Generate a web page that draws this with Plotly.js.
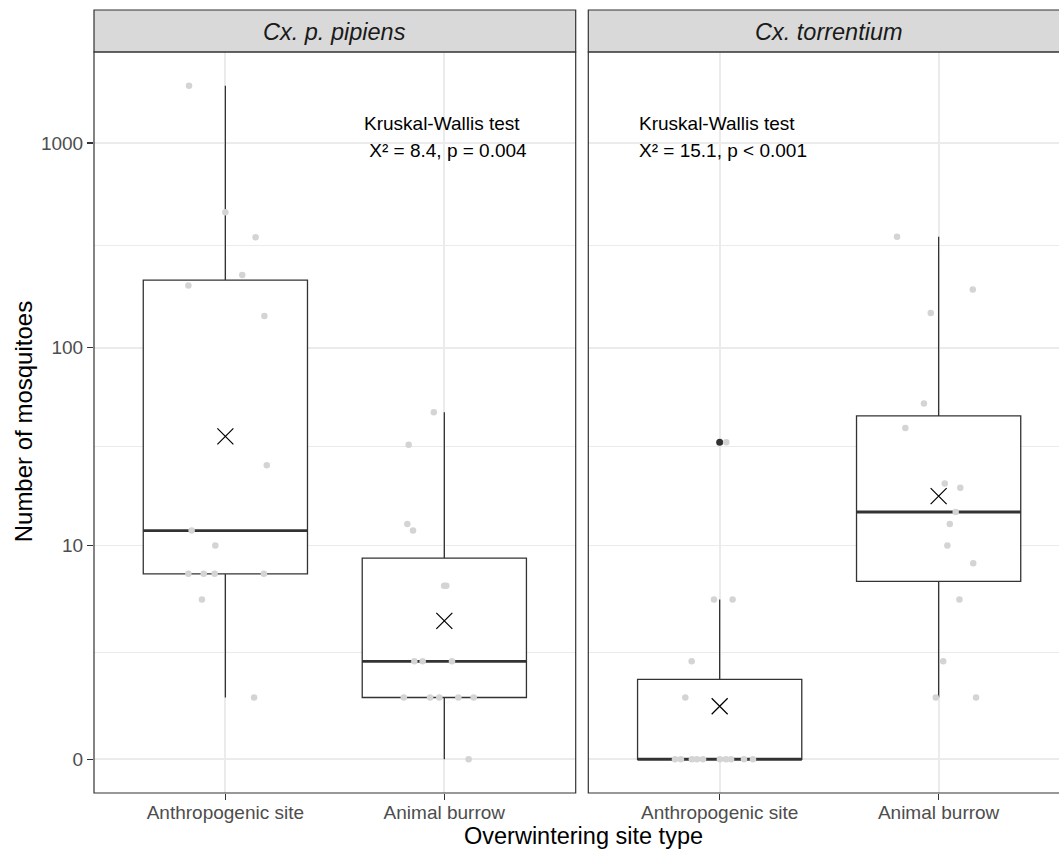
<!DOCTYPE html>
<html>
<head>
<meta charset="utf-8">
<script src="https://cdn.plot.ly/plotly-3.0.1.min.js"></script>
<style>html,body{margin:0;padding:0;background:#fff;overflow:hidden}</style>
</head>
<body>
<div id="chart" style="width:1059px;height:849px"></div>
<script>
// ---------- data ----------
const species = ['Cx. p. pipiens', 'Cx. torrentium'];
const siteTypes = ['Anthropogenic site', 'Animal burrow'];
const yBreaks = [0, 10, 100, 1000];
const yBreakLabels = ['0', '10', '100', '1000'];

// Cx. p. pipiens
const pipiensAnthropogenic = [1904, 460, 347, 227, 202, 143, 26, 12, 10, 7, 7, 7, 7, 5, 1];
const pipiensAnthropogenicJitter = [-0.166, 0.0, 0.138, 0.077, -0.169, 0.178, 0.189, -0.154, -0.046, -0.169, -0.099, -0.049, 0.176, -0.107, 0.131];
const pipiensBurrow = [48, 33, 13, 12, 6, 6, 2, 2, 2, 1, 1, 1, 1, 1, 0];
const pipiensBurrowJitter = [-0.048, -0.163, -0.169, -0.143, -0.001, 0.009, -0.137, -0.099, 0.035, -0.185, -0.065, -0.023, 0.064, 0.134, 0.111];

// Cx. torrentium
const torrentiumAnthropogenic = [34, 5, 5, 2, 1, 0, 0, 0, 0, 0, 0, 0, 0, 0, 0];
const torrentiumAnthropogenicJitter = [0.030, -0.026, 0.059, -0.128, -0.157, -0.204, -0.177, -0.127, -0.104, -0.076, 0.001, 0.029, 0.052, 0.111, 0.152];
const torrentiumBurrow = [349, 193, 148, 53, 40, 21, 20, 15, 13, 10, 8, 5, 2, 1, 1];
const torrentiumBurrowJitter = [-0.190, 0.156, -0.036, -0.067, -0.152, 0.028, 0.099, 0.078, 0.051, 0.040, 0.158, 0.095, 0.021, -0.013, 0.171];

const pipiensTest = ['Kruskal-Wallis test', '\u00a0X\u00b2 = 8.4, p = 0.004'];
const torrentiumTest = ['Kruskal-Wallis test', 'X\u00b2 = 15.1, p < 0.001'];
const xTitle = 'Overwintering site type';
const yTitle = 'Number of mosquitoes';

// ---------- helpers ----------
const tr = v => Math.log10(v + 1);           // log10(x + 1) scale
const FONT = 'Liberation Sans, Arial, Helvetica, sans-serif';
const DARK = '#333333';
const GRID = '#ebebeb';

const W = 1059, H = 849;
const M = {l: 94, r: 0, t: 52, b: 56};
const plotW = W - M.l - M.r, plotH = H - M.t - M.b;
const panelW = 481.7, gap = 12.6;
const unit = panelW / 2.2;
const px2x = px => (px - M.l) / plotW;
const py2y = py => (H - M.b - py) / plotH;

const allT = [].concat(pipiensAnthropogenic, pipiensBurrow, torrentiumAnthropogenic, torrentiumBurrow).map(tr);
const tMin = Math.min(...allT), tMax = Math.max(...allT);
const pad = (tMax - tMin) * 0.05;
const yRange = [tMin - pad, tMax + pad];

const majorT = yBreaks.map(tr);
const minorT = [];
for (let i = 0; i < majorT.length - 1; i++) minorT.push((majorT[i] + majorT[i + 1]) / 2);

function median(arr) {
  const s = arr.slice().sort((a, b) => a - b), n = s.length;
  return n % 2 ? s[(n - 1) / 2] : (s[n / 2 - 1] + s[n / 2]) / 2;
}
function mean(arr) { return arr.reduce((a, b) => a + b, 0) / arr.length; }

const groups = [
  {vals: pipiensAnthropogenic, jit: pipiensAnthropogenicJitter, pos: 1, xa: 'x', ya: 'y'},
  {vals: pipiensBurrow, jit: pipiensBurrowJitter, pos: 2, xa: 'x', ya: 'y'},
  {vals: torrentiumAnthropogenic, jit: torrentiumAnthropogenicJitter, pos: 1, xa: 'x2', ya: 'y2'},
  {vals: torrentiumBurrow, jit: torrentiumBurrowJitter, pos: 2, xa: 'x2', ya: 'y2'}
];

const boxW = 0.75;
const traces = [];
// boxes
groups.forEach(g => {
  const t = g.vals.map(tr);
  traces.push({
    type: 'box', x: t.map(() => g.pos), y: t, xaxis: g.xa, yaxis: g.ya,
    width: boxW, quartilemethod: 'inclusive', whiskerwidth: 0,
    boxpoints: 'outliers', jitter: 0, pointpos: 0,
    fillcolor: '#ffffff', line: {color: DARK, width: 1.3},
    marker: {color: DARK, size: 7, line: {width: 0}},
    hoverinfo: 'skip', showlegend: false
  });
});
// thick median lines
groups.forEach(g => {
  const m = median(g.vals.map(tr));
  traces.push({
    type: 'scatter', mode: 'lines', xaxis: g.xa, yaxis: g.ya,
    x: [g.pos - boxW / 2, g.pos + boxW / 2], y: [m, m],
    line: {color: DARK, width: 2.8}, hoverinfo: 'skip', showlegend: false
  });
});
// jittered points
groups.forEach(g => {
  traces.push({
    type: 'scatter', mode: 'markers', xaxis: g.xa, yaxis: g.ya,
    x: g.jit.map(j => g.pos + j), y: g.vals.map(tr),
    marker: {color: '#d4d4d4', size: 6.5, line: {width: 0}},
    hoverinfo: 'skip', showlegend: false
  });
});
// means (X)
groups.forEach(g => {
  traces.push({
    type: 'scatter', mode: 'markers', xaxis: g.xa, yaxis: g.ya,
    x: [g.pos], y: [mean(g.vals.map(tr))],
    marker: {symbol: 'x-thin-open', size: 16, color: '#000000', line: {color: '#000000', width: 1.2}},
    hoverinfo: 'skip', showlegend: false
  });
});

const tickFont = {family: FONT, size: 19, color: '#4d4d4d'};
const xBase = {
  type: 'linear', tickmode: 'array', tickvals: [1, 2], ticktext: siteTypes,
  showgrid: true, gridcolor: GRID, gridwidth: 1.8, zeroline: false,
  ticks: 'outside', ticklen: 6, tickwidth: 1.2, tickcolor: DARK,
  ticklabelstandoff: -4,
  tickfont: tickFont, showline: false, fixedrange: true
};
const yBase = {
  type: 'linear', range: yRange, tickmode: 'array', tickvals: majorT, ticktext: yBreakLabels,
  showgrid: true, gridcolor: GRID, gridwidth: 1.8, zeroline: false,
  minor: {tickmode: 'array', tickvals: minorT, showgrid: true, gridcolor: GRID, gridwidth: 1, ticks: ''},
  showline: false, fixedrange: true
};

const x1d = [0, px2x(M.l + panelW)];
const x2d = [px2x(M.l + panelW + gap), 1];
const x2max = 0.4 + (plotW - (panelW + gap)) / unit;

const shapes = [];
// strips
[[x1d[0], x1d[1]], [x2d[0], 1.03]].forEach(d => {
  shapes.push({type: 'rect', xref: 'paper', yref: 'paper', x0: d[0], x1: d[1], y0: 1, y1: py2y(10),
    fillcolor: '#d9d9d9', line: {color: DARK, width: 1.2}, layer: 'above'});
});
// panel borders
[[x1d[0], x1d[1]], [x2d[0], 1.03]].forEach(d => {
  shapes.push({type: 'rect', xref: 'paper', yref: 'paper', x0: d[0], x1: d[1], y0: 0, y1: 1,
    fillcolor: 'rgba(0,0,0,0)', line: {color: DARK, width: 1.2}, layer: 'above'});
});

const annotations = [];
// strip labels
annotations.push({xref: 'paper', yref: 'paper', x: px2x(M.l + panelW / 2), y: py2y(32), xanchor: 'center', yanchor: 'middle',
  text: species[0], showarrow: false, font: {family: FONT, size: 23.5, color: '#1a1a1a', style: 'italic'}});
annotations.push({xref: 'paper', yref: 'paper', x: px2x(M.l + panelW + gap + panelW / 2), y: py2y(32), xanchor: 'center', yanchor: 'middle',
  text: species[1], showarrow: false, font: {family: FONT, size: 23.5, color: '#1a1a1a', style: 'italic'}});
// test labels
const testFont = {family: FONT, size: 19, color: '#000000'};
[[pipiensTest, 363.3], [torrentiumTest, 638.3]].forEach(([lines, px]) => {
  lines.forEach((txt, i) => {
    annotations.push({xref: 'paper', yref: 'paper', x: px2x(px - 1), y: py2y(i === 0 ? 123.7 : 150.5),
      xanchor: 'left', yanchor: 'middle', text: txt, showarrow: false, font: testFont});
  });
});
// axis titles
annotations.push({xref: 'paper', yref: 'paper', x: px2x(583), y: py2y(836), xanchor: 'center', yanchor: 'middle',
  text: xTitle, showarrow: false, borderpad: 0, font: {family: FONT, size: 23.5, color: '#000000'}});
annotations.push({xref: 'paper', yref: 'paper', x: px2x(23), y: py2y(422.3), xanchor: 'center', yanchor: 'middle',
  text: yTitle, textangle: -90, showarrow: false, font: {family: FONT, size: 24, color: '#000000'}});

const layout = {
  width: W, height: H, margin: M,
  paper_bgcolor: '#ffffff', plot_bgcolor: '#ffffff',
  showlegend: false, boxmode: 'overlay',
  font: {family: FONT},
  xaxis: Object.assign({}, xBase, {domain: x1d, range: [0.4, 2.6], anchor: 'y'}),
  xaxis2: Object.assign({}, xBase, {domain: x2d, range: [0.4, x2max], anchor: 'y2'}),
  yaxis: Object.assign({}, yBase, {domain: [0, 1], anchor: 'x', ticks: 'outside', ticklen: 6, tickwidth: 1.2, tickcolor: DARK, tickfont: tickFont}),
  yaxis2: Object.assign({}, yBase, {domain: [0, 1], anchor: 'x2', matches: 'y', showticklabels: false, ticks: ''}),
  shapes: shapes,
  annotations: annotations
};

Plotly.newPlot('chart', traces, layout, {displayModeBar: false, staticPlot: true});
</script>
</body>
</html>
